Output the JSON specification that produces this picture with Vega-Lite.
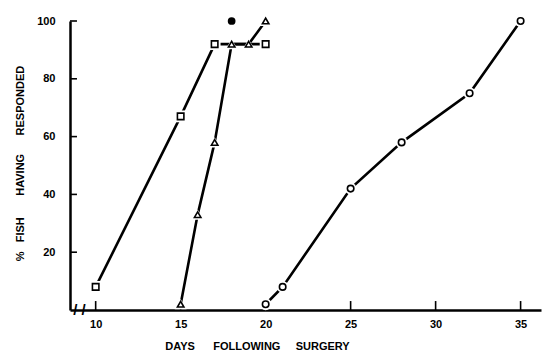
{
  "$schema": "https://vega.github.io/schema/vega-lite/v6.json",
  "width": 471,
  "height": 289,
  "autosize": {"type": "none"},
  "padding": {"left": 70, "top": 21, "right": 4, "bottom": 42},
  "background": "white",
  "config": {
    "view": {"stroke": null},
    "font": "Liberation Sans"
  },
  "datasets": {
    "points": [
      {"series": "square", "day": 10, "pct": 8},
      {"series": "square", "day": 15, "pct": 67},
      {"series": "square", "day": 17, "pct": 92},
      {"series": "square", "day": 20, "pct": 92},
      {"series": "triangle", "day": 15, "pct": 2},
      {"series": "triangle", "day": 16, "pct": 33},
      {"series": "triangle", "day": 17, "pct": 58},
      {"series": "triangle", "day": 18, "pct": 92},
      {"series": "triangle", "day": 19, "pct": 92},
      {"series": "triangle", "day": 20, "pct": 100},
      {"series": "circle", "day": 20, "pct": 2},
      {"series": "circle", "day": 21, "pct": 8},
      {"series": "circle", "day": 25, "pct": 42},
      {"series": "circle", "day": 28, "pct": 58},
      {"series": "circle", "day": 32, "pct": 75},
      {"series": "circle", "day": 35, "pct": 100},
      {"series": "filled", "day": 18, "pct": 100}
    ],
    "xticks": [{"day": 10}, {"day": 15}, {"day": 20}, {"day": 25}, {"day": 30}, {"day": 35}],
    "yticks": [{"pct": 20}, {"pct": 40}, {"pct": 60}, {"pct": 80}, {"pct": 100}]
  },
  "layer": [
    {
      "data": {"name": "xticks"},
      "mark": {"type": "rule", "color": "black", "strokeWidth": 1.6},
      "encoding": {
        "x": {
          "field": "day", "type": "quantitative",
          "scale": {"domain": [8.49, 36.2], "nice": false, "zero": false},
          "axis": {
            "values": [10, 15, 20, 25, 30, 35],
            "grid": false,
            "ticks": false,
            "domainColor": "black",
            "domainWidth": 2.5,
            "labelFont": "Liberation Sans",
            "labelFontWeight": "bold",
            "labelFontSize": 11,
            "labelColor": "black",
            "labelPadding": 8,
            "title": "DAYS\u00a0\u00a0\u00a0\u00a0\u00a0\u00a0FOLLOWING\u00a0\u00a0\u00a0\u00a0\u00a0SURGERY",
            "titleFont": "Liberation Sans",
            "titleFontWeight": "bold",
            "titleFontSize": 11,
            "titleColor": "black",
            "titleX": 187,
            "titleY": 36,
            "titleAlign": "center",
            "titleBaseline": "middle",
            "titleAnchor": null
          }
        },
        "y": {
          "datum": 0,
          "scale": {"domain": [0, 100], "nice": false},
          "axis": {
            "values": [20, 40, 60, 80, 100],
            "grid": false,
            "ticks": false,
            "domainColor": "black",
            "domainWidth": 2.5,
            "labelFont": "Liberation Sans",
            "labelFontWeight": "bold",
            "labelFontSize": 11,
            "labelColor": "black",
            "labelPadding": 15,
            "title": "%\u00a0\u00a0\u00a0FISH\u00a0\u00a0\u00a0\u00a0\u00a0\u00a0\u00a0HAVING\u00a0\u00a0\u00a0\u00a0\u00a0\u00a0RESPONDED",
            "titleFont": "Liberation Sans",
            "titleFontWeight": "bold",
            "titleFontSize": 11,
            "titleColor": "black",
            "titleX": -50,
            "titleY": 142,
            "titleAngle": -90,
            "titleAlign": "center",
            "titleBaseline": "middle",
            "titleAnchor": null
          }
        },
        "y2": {"datum": 3.1}
      }
    },
    {
      "data": {"name": "yticks"},
      "mark": {"type": "rule", "color": "black", "strokeWidth": 1.6},
      "encoding": {"y": {"field": "pct", "type": "quantitative"}, "x": {"datum": 8.49}, "x2": {"datum": 8.9}}
    },
    {
      "data": {"name": "points"},
      "transform": [{"filter": "datum.series !== 'filled'"}],
      "mark": {"type": "line", "color": "black", "strokeWidth": 2.6},
      "encoding": {
        "x": {"field": "day", "type": "quantitative"},
        "y": {"field": "pct", "type": "quantitative"},
        "detail": {"field": "series"},
        "order": {"field": "day"}
      }
    },
    {
      "data": {"name": "points"},
      "transform": [{"filter": "datum.series !== 'filled'"}],
      "mark": {"type": "point", "filled": true, "fill": "white", "size": 140, "opacity": 1, "clip": false},
      "encoding": {
        "x": {"field": "day", "type": "quantitative"},
        "y": {"field": "pct", "type": "quantitative"},
        "shape": {"field": "series", "type": "nominal", "scale": {"domain": ["square", "triangle", "circle"], "range": ["square", "triangle-up", "circle"]}, "legend": null}
      }
    },
    {
      "data": {"name": "points"},
      "transform": [{"filter": "datum.series !== 'filled'"}],
      "mark": {"type": "point", "fill": "white", "stroke": "black", "strokeWidth": 1.6, "size": 42, "opacity": 1, "clip": false},
      "encoding": {
        "x": {"field": "day", "type": "quantitative"},
        "y": {"field": "pct", "type": "quantitative"},
        "shape": {"field": "series", "type": "nominal", "scale": {"domain": ["square", "triangle", "circle"], "range": ["square", "triangle-up", "circle"]}, "legend": null}
      }
    },
    {
      "data": {"name": "points"},
      "transform": [{"filter": "datum.series === 'filled'"}],
      "mark": {"type": "point", "shape": "circle", "filled": true, "color": "black", "size": 60, "opacity": 1, "clip": false},
      "encoding": {
        "x": {"field": "day", "type": "quantitative"},
        "y": {"field": "pct", "type": "quantitative"}
      }
    },
    {
      "data": {"values": [{}]},
      "mark": {"type": "text", "text": "/ /", "fontWeight": "bold", "fontSize": 15, "color": "black", "baseline": "middle", "align": "center"},
      "encoding": {"x": {"datum": 9.05}, "y": {"datum": 0}}
    }
  ]
}
